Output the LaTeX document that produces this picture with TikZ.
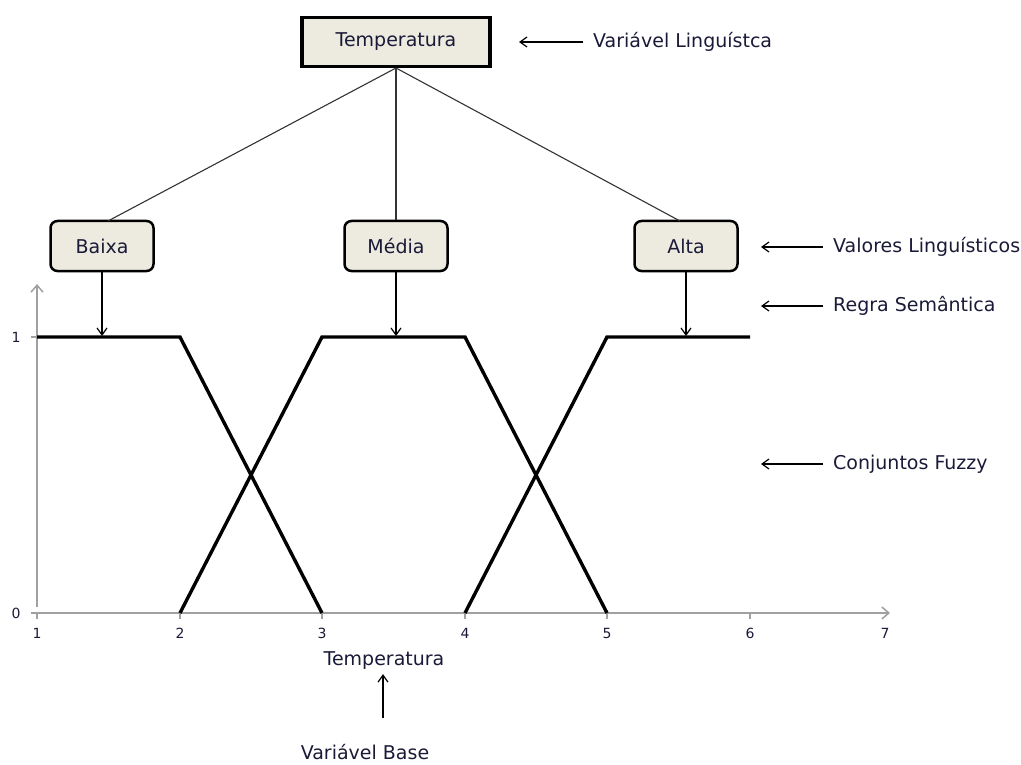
\documentclass[tikz,border=0pt]{standalone}
\usepackage{fontspec}
\setmainfont{DejaVu Sans}
\usetikzlibrary{arrows.meta}
\definecolor{boxfill}{HTML}{EDEBE0}
\definecolor{txt}{HTML}{1A1A38}
\definecolor{axisgray}{HTML}{A0A0A0}
\begin{document}
\begin{tikzpicture}[x=1pt,y=-1pt,
  lbl/.style={font=\fontsize{19}{22}\selectfont, text=txt, inner sep=0pt},
  small/.style={font=\fontsize{14}{16}\selectfont, text=txt, inner sep=0pt},
  topbox/.style={draw=black, line width=3.5pt, fill=boxfill, minimum width=188pt, minimum height=49pt, inner sep=0pt, font=\fontsize{19}{22}\selectfont, text=txt},
  valbox/.style={draw=black, line width=2.5pt, fill=boxfill, rounded corners=7pt, minimum width=103pt, minimum height=50pt, inner sep=0pt, font=\fontsize{19}{22}\selectfont, text=txt},
  conn/.style={draw=black!80, line width=1.1pt},
  ptr/.style={draw=black, line width=1.2pt, -{Straight Barb[length=7pt,width=10pt]}},
  axisln/.style={draw=axisgray, line width=1.5pt},
  mf/.style={draw=black, line width=3.4pt, line join=miter}
]
\useasboundingbox (0,0) rectangle (1021,765);

% nodes
\node[topbox] (temp) at (396,42) {Temperatura};
\node[valbox] (baixa) at (102,246) {Baixa};
\node[valbox] (media) at (396,246) {Média};
\node[valbox] (alta) at (686,246) {Alta};

% connectors tree
\coordinate (tb) at (396,68);
\draw[conn] (tb) -- (108,221);
\draw[conn] (tb) -- (media.north);
\draw[conn] (tb) -- (680,221);

% axes
\coordinate (o) at (37,613);
\coordinate (xend) at (890,613);
\coordinate (yend) at (37,284);
\draw[axisln, -{Straight Barb[length=7pt,width=12pt]}] (o) -- (xend);
\draw[axisln, -{Straight Barb[length=7pt,width=12pt]}] ([yshift=6pt]o) -- (yend);
\foreach \i/\x in {1/37,2/180,3/322,4/465,5/607,6/750,7/885}{
  \ifnum\i<7 \draw[axisln] (\x,613) -- (\x,619); \fi
  \node[small] (xl\i) at (\x,633) {\i};
}
\draw[axisln] (31,613) -- (37,613);
\draw[axisln] (31,337) -- (37,337);
\node[small] (y0) at (16,613) {0};
\node[small] (y1) at (16,337) {1};

% membership functions
\coordinate (p1) at (37,337);
\coordinate (p2) at (180,337);
\coordinate (p3) at (322,613);
\draw[mf] (p1) -- (p2) -- (p3);
\coordinate (m1) at (180,613);
\coordinate (m2) at (322,337);
\coordinate (m3) at (465,337);
\coordinate (m4) at (607,613);
\draw[mf] (m1) -- (m2) -- (m3) -- (m4);
\coordinate (a1) at (465,613);
\coordinate (a2) at (607,337);
\coordinate (a3) at (750,337);
\draw[mf] (a1) -- (a2) -- (a3);

% semantic rule arrows
\coordinate (bt) at (102,336);
\coordinate (mt) at (396,336);
\coordinate (at) at (686,336);
\draw[ptr] (baixa.south) -- (bt);
\draw[ptr] (media.south) -- (mt);
\draw[ptr] (alta.south) -- (at);

% right labels
\node[lbl, anchor=west] (vl) at (593,42) {Variável Linguístca};
\coordinate (vla) at (519,42);
\draw[ptr] ([xshift=-10pt]vl.west) -- (vla);

\node[lbl, anchor=west] (val) at (833,247) {Valores Linguísticos};
\coordinate (vala) at (761,247);
\draw[ptr] ([xshift=-10pt]val.west) -- (vala);

\node[lbl, anchor=west] (rs) at (833,306) {Regra Semântica};
\coordinate (rsa) at (761,306);
\draw[ptr] ([xshift=-10pt]rs.west) -- (rsa);

\node[lbl, anchor=west] (cf) at (833,464) {Conjuntos Fuzzy};
\coordinate (cfa) at (761,464);
\draw[ptr] ([xshift=-10pt]cf.west) -- (cfa);

% bottom labels
\node[lbl] (bt2) at (384,661) {Temperatura};
\node[lbl] (vb) at (365,752) {Variável Base};
\coordinate (vbs) at (383,718);
\draw[ptr] (vbs) -- ([yshift=-4pt]bt2.south -| vbs);
\end{tikzpicture}
\end{document}
